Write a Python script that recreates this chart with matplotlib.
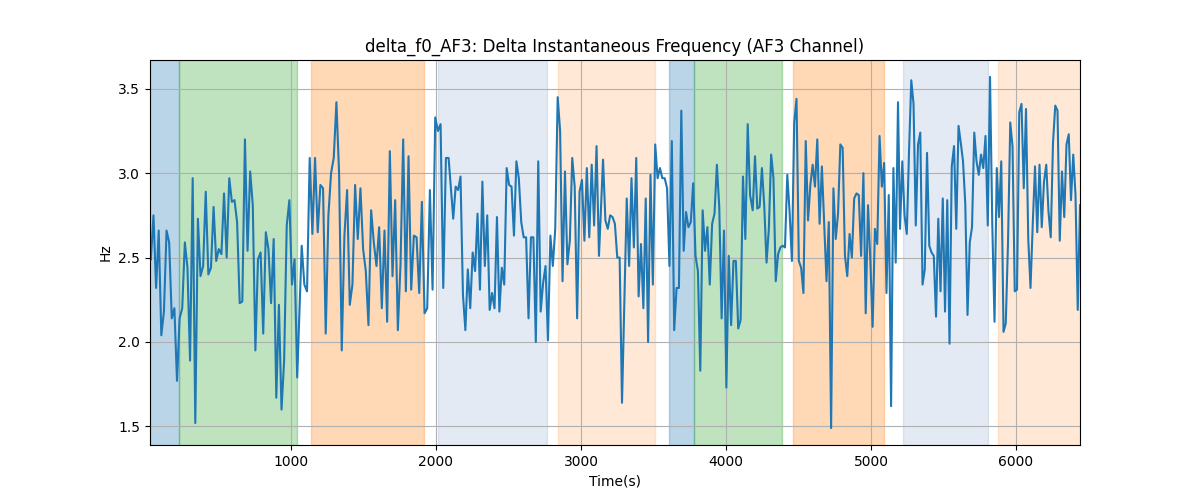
import numpy as np
import matplotlib
matplotlib.use("Agg")
import matplotlib.pyplot as plt

# delta instantaneous frequency, AF3 channel,
# split in six stretches, each with the time of its first and last sample
chunk1 = [2.49, 2.75, 2.32, 2.66, 2.04, 2.18, 2.66, 2.59, 2.14, 2.20, 1.77, 2.14, 2.20, 2.59, 2.44, 1.89,
          2.97, 1.52, 2.73, 2.39, 2.45, 2.89, 2.40, 2.44, 2.80, 2.48, 2.55, 2.52, 2.88, 2.50, 2.97, 2.83,
          2.84, 2.71, 2.23, 2.24, 3.20, 2.54, 3.01, 2.81, 1.95, 2.49, 2.53, 2.05, 2.65, 2.55, 2.23, 2.61,
          1.67, 2.22, 1.60, 1.89, 2.69, 2.84, 2.34, 2.49, 1.79]
chunk2 = [2.57, 2.34, 2.30, 3.09, 2.64, 3.09, 2.65, 2.93, 2.91, 2.05, 2.75, 3.00, 3.09, 3.42, 3.00, 1.95,
          2.63, 2.90, 2.22, 2.34, 2.93, 2.61, 2.91, 2.55, 2.42, 2.10, 2.78, 2.59, 2.45, 2.68, 2.20, 2.66,
          2.12, 3.13, 2.39, 2.84, 2.07, 2.46, 3.20, 2.30, 3.10, 2.31, 2.63, 2.62, 2.29, 2.83, 2.17, 2.20,
          2.90, 2.31, 3.33, 3.25, 3.29, 2.32, 3.09, 3.09]
chunk3 = [2.73, 2.92, 2.90, 2.98, 2.28, 2.07, 2.43, 2.20, 2.53, 2.42, 2.76, 2.31, 2.95, 2.45, 2.75, 2.19,
          2.29, 2.20, 2.74, 2.18, 2.44, 2.34, 3.03, 2.93, 2.92, 2.63, 3.07, 2.97, 2.71, 2.62, 2.62, 2.14,
          2.62, 2.62, 2.00, 3.07, 2.18, 2.35, 2.45, 2.01, 2.63, 2.45, 2.67, 3.45, 3.25, 2.36, 3.01, 2.46,
          2.60, 3.09, 2.92, 2.14, 2.89, 2.96, 2.60, 3.03, 2.62, 3.05, 2.69, 3.16, 2.51]
chunk4 = [3.08, 2.72, 2.67, 2.75, 2.74, 2.70, 2.50, 2.50, 1.64, 2.24, 2.85, 2.45, 2.97, 2.56, 3.09, 2.27,
          2.58, 2.20, 2.85, 2.00, 2.99, 2.34, 3.17, 2.97, 3.03, 2.97, 2.97, 2.91, 2.45, 3.19, 2.07, 2.32,
          2.32, 3.37, 2.54, 2.77, 2.68, 2.71, 2.94, 2.51, 2.42, 1.83, 2.78, 2.54, 2.68, 2.34, 2.70, 2.76,
          3.05, 2.80, 2.14, 2.66, 1.73, 2.51, 2.10, 2.48, 2.48, 2.08, 2.13, 2.98, 2.61, 3.29, 2.87]
chunk5 = [2.78, 3.10, 2.79, 2.80, 3.03, 2.81, 2.47, 2.67, 3.11, 2.97, 2.36, 2.52, 2.56, 2.57, 2.56, 2.99,
          2.77, 2.48, 3.30, 3.44, 2.48, 2.44, 2.29, 3.19, 2.72, 2.93, 3.05, 2.92, 3.20, 2.70, 3.04, 2.70,
          2.36, 2.71, 1.49, 2.91, 2.61, 2.76, 3.17, 3.15, 2.51, 2.39, 2.64, 2.50, 2.85, 2.88, 2.87, 2.51,
          3.00, 2.17, 2.81, 2.48, 2.09, 2.67, 2.58, 3.22, 2.92, 3.06, 2.29, 2.87, 1.62, 3.03, 2.47, 3.42]
chunk6 = [2.67, 3.07, 2.75, 2.64, 3.13, 3.55, 3.41, 2.69, 3.17, 3.24, 2.34, 2.43, 3.12, 2.57, 2.53, 2.51,
          2.15, 2.73, 2.30, 2.85, 2.18, 2.84, 1.99, 3.04, 3.16, 2.67, 3.28, 3.18, 3.07, 2.82, 2.16, 2.59,
          2.68, 3.24, 3.07, 2.99, 3.11, 3.03, 3.22, 2.69, 3.57, 2.70, 2.12, 3.03, 2.74, 3.07, 2.06, 2.11,
          2.59, 3.30, 3.16, 2.30, 2.31, 3.36, 3.41, 2.91, 3.38, 2.61, 2.32, 2.70, 3.04, 2.65, 3.05, 2.68,
          2.95, 3.05, 2.77, 2.62, 3.18, 3.40, 3.37, 2.60, 3.01, 2.74, 3.17, 3.23, 2.84, 3.11, 2.87, 2.19,
          2.81]
chunks = [chunk1, chunk2, chunk3, chunk4, chunk5, chunk6]
chunk_t0 = [34, 1074, 2119, 3152, 4184, 5200]
chunk_t1 = [1043, 2087, 3124, 4166, 5186, 6441]

t_start, t_end = 28, 6441

# segments: (start, end, colour, alpha)
seg_starts = [t_start, 228, 1138, 2011, 2841, 3607, 3777, 4462, 5221, 5876]
seg_ends = [228, 1043, 1915, 2763, 3508, 3777, 4384, 5092, 5805, t_end]
seg_colors = ["tab:blue", "tab:green", "tab:orange", "#4c72b0", "tab:orange",
              "tab:blue", "tab:green", "tab:orange", "#4c72b0", "tab:orange"]
seg_alphas = [0.3, 0.3, 0.3, 0.15, 0.17, 0.3, 0.3, 0.3, 0.15, 0.17]

time = np.concatenate([np.linspace(a, b, len(c)) for c, a, b in zip(chunks, chunk_t0, chunk_t1)])
delta_f0 = np.concatenate(chunks)

fig, ax = plt.subplots(figsize=(12, 5), dpi=100)
for s, e, c, a in zip(seg_starts, seg_ends, seg_colors, seg_alphas):
    ax.axvspan(s, e, color=c, alpha=a, lw=1)

ax.plot(time, delta_f0, color="tab:blue", lw=1.5)
ax.set_xlim(t_start, t_end)
ax.set_ylim(1.39, 3.67)
ax.grid(True)
ax.set_title("delta_f0_AF3: Delta Instantaneous Frequency (AF3 Channel)")
ax.set_xlabel("Time(s)")
ax.set_ylabel("Hz")

plt.savefig("out.png")
